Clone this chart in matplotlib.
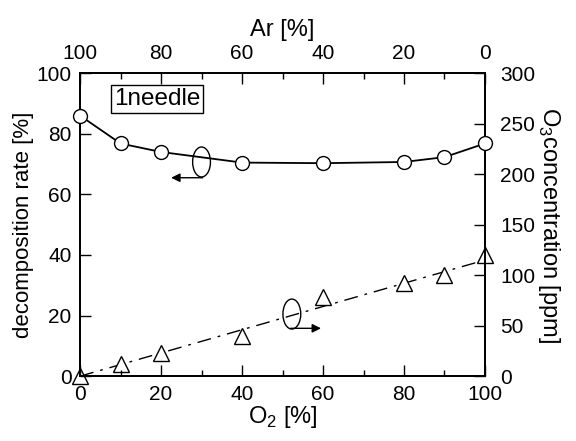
import numpy as np
import matplotlib
matplotlib.use("Agg")
import matplotlib.pyplot as plt
from matplotlib.patches import Ellipse
from matplotlib.ticker import MultipleLocator

plt.rcParams["font.family"] = ["Liberation Sans", "DejaVu Sans"]
plt.rcParams["font.size"] = 15
plt.rcParams["mathtext.fontset"] = "custom"
plt.rcParams["mathtext.rm"] = "Liberation Sans"

# -----------------------------
# data
# -----------------------------
o2_pct = [0, 10, 20, 40, 60, 80, 90, 100]
decomp_rate = [86.0, 76.8, 74.0, 70.5, 70.3, 70.7, 72.3, 76.8]
o3_ppm = [0, 12, 23, 40, 78, 92, 100, 120]
fit_x = [0, 100]
fit_ppm = [0, 115]
ar_ticks = [100, 80, 60, 40, 20, 0]

fig = plt.figure(figsize=(5.76, 4.41), dpi=100)
ax = fig.add_axes([0.139, 0.147, 0.703, 0.687])

ax.plot(o2_pct, decomp_rate, color="black", lw=1.3, marker="o", ms=10,
        mfc="white", mec="black", mew=1.0, zorder=3, clip_on=False)
ax.set_xlim(0, 100)
ax.set_ylim(0, 100)
ax.xaxis.set_major_locator(MultipleLocator(20))
ax.xaxis.set_minor_locator(MultipleLocator(10))
ax.yaxis.set_major_locator(MultipleLocator(20))
ax.set_xlabel("O$_2$ [%]", fontsize=17, labelpad=0)
ax.set_ylabel("decomposition rate [%]", fontsize=16, labelpad=2)

# right axis: ozone concentration
ax2 = ax.twinx()
ax2.plot(fit_x, fit_ppm, color="black", lw=1.0, ls=(0, (10, 5, 2, 5)), zorder=2)
ax2.plot(o2_pct, o3_ppm, ls="none", marker="^", ms=11, mfc="white",
         mec="black", mew=1.0, zorder=3, clip_on=False)
ax2.set_ylim(0, 300)
ax2.yaxis.set_major_locator(MultipleLocator(50))
ax2.set_ylabel("O$_3$concentration [ppm]", fontsize=17, rotation=270, labelpad=19)

# top axis: argon fraction
ax3 = ax.twiny()
ax3.set_xlim(100, 0)
ax3.set_xticks(ar_ticks)
ax3.xaxis.set_minor_locator(MultipleLocator(10))
ax3.set_xlabel("Ar [%]", fontsize=17, labelpad=6)

for a in (ax, ax2, ax3):
    a.tick_params(which="major", direction="in", length=8, width=1.0, pad=6)
    a.tick_params(which="minor", direction="in", length=4, width=1.0)
    for s in a.spines.values():
        s.set_linewidth(1.2)
ax.tick_params(top=False, right=False)
ax2.tick_params(axis="y", right=True, left=False, pad=11)
ax3.tick_params(axis="x", top=True, bottom=False, pad=7)
ax.set_zorder(ax2.get_zorder() + 1)
ax.patch.set_visible(False)

# ellipse markers with arrows pointing to the matching axis
ax.add_patch(Ellipse((30, 70.7), 4.4, 9.9, fill=False, lw=1.0, ec="black"))
ax.annotate("", xy=(22.5, 65.5), xytext=(30.3, 65.5),
            arrowprops=dict(arrowstyle="-|>", color="black", lw=1.0,
                            mutation_scale=13, shrinkA=0, shrinkB=0))
ax.add_patch(Ellipse((52.3, 20.5), 4.4, 9.9, fill=False, lw=1.0, ec="black"))
ax.annotate("", xy=(59.5, 15.8), xytext=(52.0, 15.8),
            arrowprops=dict(arrowstyle="-|>", color="black", lw=1.0,
                            mutation_scale=13, shrinkA=0, shrinkB=0))

ax.text(19, 91.5, "1needle", fontsize=17.5, ha="center", va="center", zorder=10,
        bbox=dict(boxstyle="square,pad=0.12", fc="white", ec="black", lw=1.0))

fig.savefig("out.png", dpi=100)
